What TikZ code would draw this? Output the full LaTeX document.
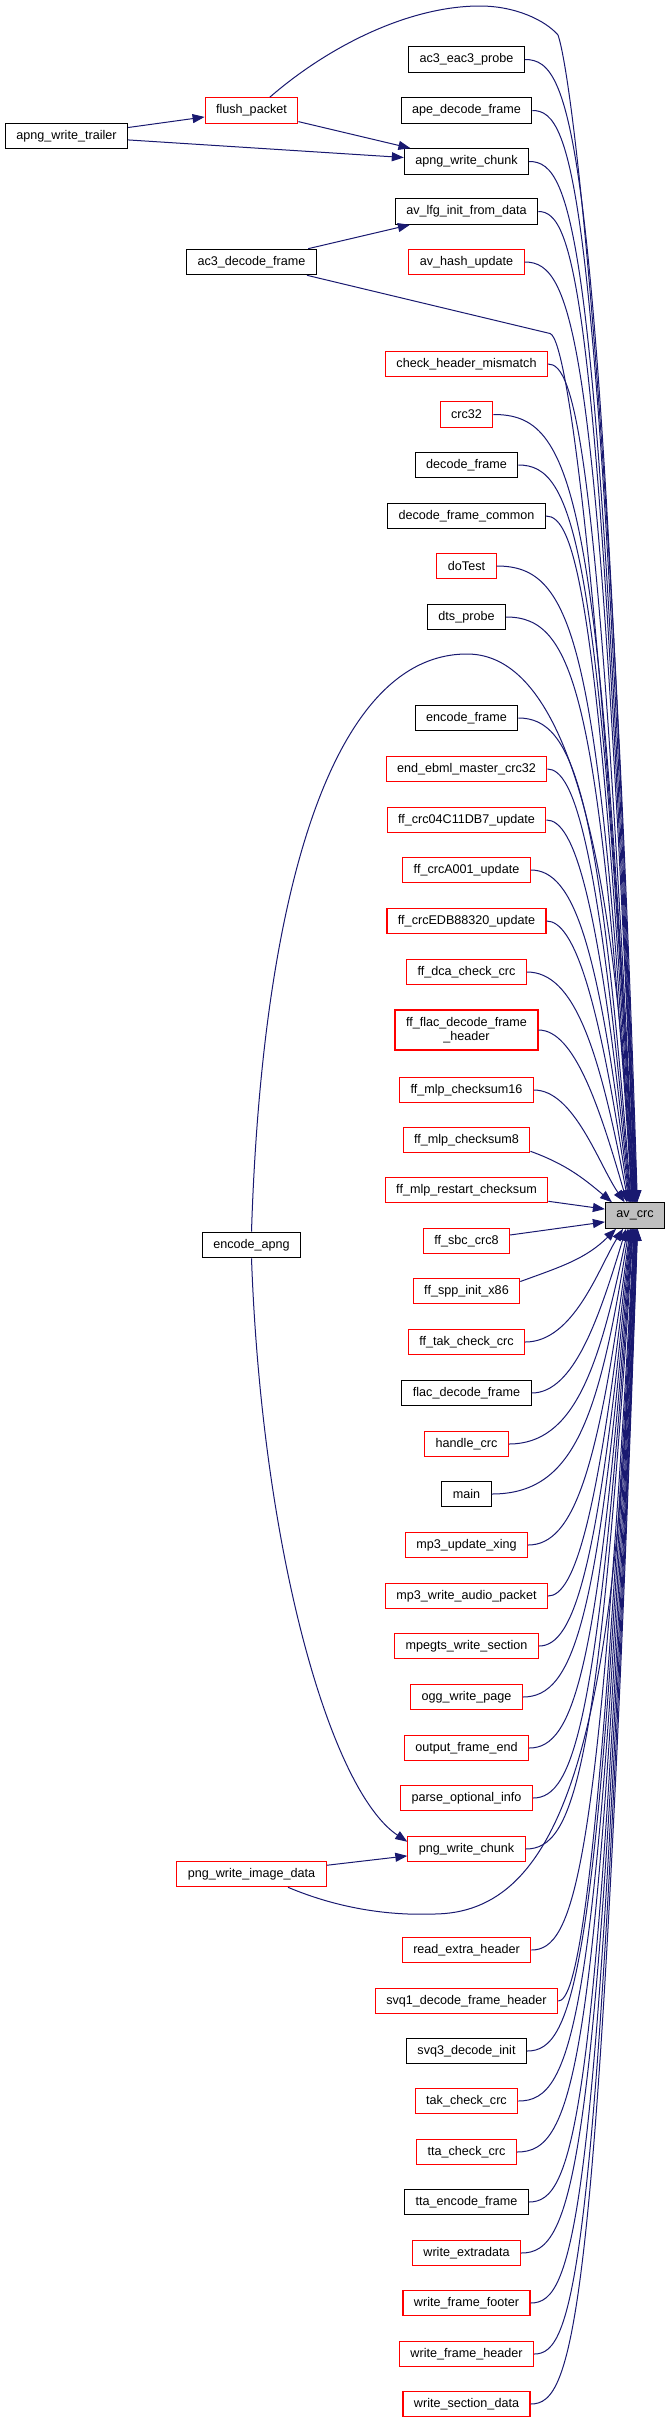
\documentclass[tikz,border=0pt]{standalone}
\usepackage{fontspec}
\setmainfont{Liberation Sans}
\usetikzlibrary{arrows.meta,calc}

\definecolor{edgeblue}{HTML}{191970}
\definecolor{boxred}{HTML}{FF0000}
\definecolor{selgray}{HTML}{BFBFBF}

\begin{document}
\begin{tikzpicture}[
      x=1pt, y=1pt,
      font=\fontsize{12.6}{14}\selectfont,
      fnbox/.style={draw=black, line width=1.1pt, fill=white, inner xsep=11pt, inner ysep=0pt, minimum height=25.5pt},
      redbox/.style={fnbox, draw=boxred},
      selbox/.style={fnbox, fill=selgray},
      callarr/.style={-{Triangle[length=12pt, width=9pt]}, draw=edgeblue, line width=1pt},
      fromabove/.style={to path={.. controls (\tikztostart -| bendx) and ($(\tikztostart -| bendx)+(25,-75)$) .. (\tikztotarget)}},
      frombelow/.style={to path={.. controls (\tikztostart -| bendx) and ($(\tikztostart -| bendx)+(25,75)$) .. (\tikztotarget)}},
    ]
    \useasboundingbox[fill=white] (0,0) rectangle (669,-2425);
    \coordinate (bendx) at (574,0);

    % callers further out
    \node[fnbox] (trailer) at (66.5,-136) {apng\_write\_trailer};
    \node[redbox] (flush) at (251.5,-110.5) {flush\_packet};
    \node[fnbox] (ac3dec) at (251.5,-262) {ac3\_decode\_frame};
    \node[fnbox] (encapng) at (251.5,-1245) {encode\_apng};
    \node[redbox] (pngimg) at (251.5,-1874) {png\_write\_image\_data};

    % direct callers
    \node[fnbox] (probe) at (466.5,-59.5) {ac3\_eac3\_probe};
    \node[fnbox] (apedec) at (466.5,-110.5) {ape\_decode\_frame};
    \node[fnbox] (apngchunk) at (466.5,-161.5) {apng\_write\_chunk};
    \node[fnbox] (lfginit) at (466.5,-211.5) {av\_lfg\_init\_from\_data};
    \node[redbox] (hashupd) at (466.5,-262) {av\_hash\_update};
    \node[redbox] (chkhdr) at (466.5,-364) {check\_header\_mismatch};
    \node[redbox] (crc) at (466.5,-414.5) {crc32};
    \node[fnbox] (decframe) at (466.5,-465) {decode\_frame};
    \node[fnbox] (decframecom) at (466.5,-516) {decode\_frame\_common};
    \node[redbox] (dotest) at (466.5,-566) {doTest};
    \node[fnbox] (dtsprobe) at (466.5,-617) {dts\_probe};
    \node[fnbox] (encframe) at (466.5,-718) {encode\_frame};
    \node[redbox] (ebmlcrc) at (466.5,-769) {end\_ebml\_master\_crc32};
    \node[redbox] (crc04) at (466.5,-820) {ff\_crc04C11DB7\_update};
    \node[redbox] (crca001) at (466.5,-870) {ff\_crcA001\_update};
    \node[redbox] (crcedb) at (466.5,-921) {ff\_crcEDB88320\_update};
    \node[redbox] (dcacrc) at (466.5,-972) {ff\_dca\_check\_crc};
    \node[redbox, align=center, minimum height=40pt] (flachdr) at (466.5,-1030) {ff\_flac\_decode\_frame\\\_header};
    \node[redbox] (mlp16) at (466.5,-1090) {ff\_mlp\_checksum16};
    \node[redbox] (mlp8) at (466.5,-1140) {ff\_mlp\_checksum8};
    \node[redbox] (mlprestart) at (466.5,-1190) {ff\_mlp\_restart\_checksum};
    \node[redbox] (sbccrc) at (466.5,-1241) {ff\_sbc\_crc8};
    \node[redbox] (sppinit) at (466.5,-1291) {ff\_spp\_init\_x86};
    \node[redbox] (ftakcrc) at (466.5,-1342) {ff\_tak\_check\_crc};
    \node[fnbox] (flacdec) at (466.5,-1393) {flac\_decode\_frame};
    \node[redbox] (handlecrc) at (466.5,-1444) {handle\_crc};
    \node[fnbox] (mainfn) at (466.5,-1494) {main};
    \node[redbox] (mp3xing) at (466.5,-1545) {mp3\_update\_xing};
    \node[redbox] (mp3audio) at (466.5,-1596) {mp3\_write\_audio\_packet};
    \node[redbox] (mpegtssec) at (466.5,-1646) {mpegts\_write\_section};
    \node[redbox] (oggpage) at (466.5,-1697) {ogg\_write\_page};
    \node[redbox] (outframe) at (466.5,-1748) {output\_frame\_end};
    \node[redbox] (parseopt) at (466.5,-1798) {parse\_optional\_info};
    \node[redbox] (pngchunk) at (466.5,-1849) {png\_write\_chunk};
    \node[redbox] (readextra) at (466.5,-1950) {read\_extra\_header};
    \node[redbox] (svq1hdr) at (466.5,-2001) {svq1\_decode\_frame\_header};
    \node[fnbox] (svq3init) at (466.5,-2051) {svq3\_decode\_init};
    \node[redbox] (takcrc) at (466.5,-2101) {tak\_check\_crc};
    \node[redbox] (ttacrc) at (466.5,-2152) {tta\_check\_crc};
    \node[fnbox] (ttaenc) at (466.5,-2202) {tta\_encode\_frame};
    \node[redbox] (extradata) at (466.5,-2253) {write\_extradata};
    \node[redbox] (footer) at (466.5,-2303) {write\_frame\_footer};
    \node[redbox] (header) at (466.5,-2354) {write\_frame\_header};
    \node[redbox] (section) at (466.5,-2404) {write\_section\_data};

    \node[selbox] (avcrc) at (635,-1215.5) {av\_crc};

    % calls between callers
    \draw[callarr] (trailer) -- (flush);
    \draw[callarr] (trailer) -- (apngchunk);
    \draw[callarr] (flush) -- (apngchunk);
    \draw[callarr] (ac3dec) -- (lfginit);
    \draw[callarr] (pngimg) -- (pngchunk);
    \draw[callarr] (encapng.south) .. controls (262,-1550) and (330,-1790) .. (pngchunk.173);

    % long ones round the column
    \draw[callarr] (flush.36) .. controls (330,-45) and (410,-6) .. (480,-6)
        .. controls (515,-6) and (545,-20) .. (558,-35)
        .. controls (572,-75) and (612,-400) .. (avcrc.80);
    \draw[callarr] (ac3dec) -- (550,-333.5) .. controls (570,-338.5) and (605,-650) .. (avcrc.90);
    \draw[callarr] (encapng.north) .. controls (262,-900) and (330,-654) .. (467,-654)
        .. controls (540,-654) and (612,-760) .. (avcrc.104);
    \draw[callarr] (pngimg.-20) .. controls (330,-1905) and (380,-1916) .. (433,-1914)
        .. controls (560,-1914) and (620,-1750) .. (avcrc.264);

    % into av_crc from above
    \draw[callarr] (probe.east) to[fromabove] (avcrc.82);
    \draw[callarr] (apedec.east) to[fromabove] (avcrc.84);
    \draw[callarr] (apngchunk.east) to[fromabove] (avcrc.86);
    \draw[callarr] (lfginit.east) to[fromabove] (avcrc.88);
    \draw[callarr] (hashupd.east) to[fromabove] (avcrc.89);
    \draw[callarr] (chkhdr.east) to[fromabove] (avcrc.92);
    \draw[callarr] (crc.east) to[fromabove] (avcrc.94);
    \draw[callarr] (decframe.east) to[fromabove] (avcrc.96);
    \draw[callarr] (decframecom.east) to[fromabove] (avcrc.98);
    \draw[callarr] (dotest.east) to[fromabove] (avcrc.100);
    \draw[callarr] (dtsprobe.east) to[fromabove] (avcrc.102);
    \draw[callarr] (encframe.east) to[fromabove] (avcrc.106);
    \draw[callarr] (ebmlcrc.east) to[fromabove] (avcrc.108);
    \draw[callarr] (crc04.east) to[fromabove] (avcrc.110);
    \draw[callarr] (crca001.east) to[fromabove] (avcrc.112);
    \draw[callarr] (crcedb.east) to[fromabove] (avcrc.114);
    \draw[callarr] (dcacrc.east) to[fromabove] (avcrc.117);
    \draw[callarr] (flachdr.east) to[fromabove] (avcrc.121);
    \draw[callarr] (mlp16.east) to[fromabove] (avcrc.128);
    \draw[callarr] (mlp8.-10) to[out=-20, in=140] (avcrc.150);
    \draw[callarr] (mlprestart) -- (avcrc.168);

    % into av_crc from below
    \draw[callarr] (sbccrc) -- (avcrc.192);
    \draw[callarr] (sppinit.10) to[out=20, in=-135] (avcrc.215);
    \draw[callarr] (ftakcrc.east) to[frombelow] (avcrc.228);
    \draw[callarr] (flacdec.east) to[frombelow] (avcrc.236);
    \draw[callarr] (handlecrc.east) to[frombelow] (avcrc.242);
    \draw[callarr] (mainfn.east) to[frombelow] (avcrc.246);
    \draw[callarr] (mp3xing.east) to[frombelow] (avcrc.250);
    \draw[callarr] (mp3audio.east) to[frombelow] (avcrc.252);
    \draw[callarr] (mpegtssec.east) to[frombelow] (avcrc.254);
    \draw[callarr] (oggpage.east) to[frombelow] (avcrc.256);
    \draw[callarr] (outframe.east) to[frombelow] (avcrc.258);
    \draw[callarr] (parseopt.east) to[frombelow] (avcrc.260);
    \draw[callarr] (pngchunk.east) to[frombelow] (avcrc.262);
    \draw[callarr] (readextra.east) to[frombelow] (avcrc.266);
    \draw[callarr] (svq1hdr.east) to[frombelow] (avcrc.268);
    \draw[callarr] (svq3init.east) to[frombelow] (avcrc.270);
    \draw[callarr] (takcrc.east) to[frombelow] (avcrc.272);
    \draw[callarr] (ttacrc.east) to[frombelow] (avcrc.274);
    \draw[callarr] (ttaenc.east) to[frombelow] (avcrc.276);
    \draw[callarr] (extradata.east) to[frombelow] (avcrc.278);
    \draw[callarr] (footer.east) to[frombelow] (avcrc.279);
    \draw[callarr] (header.east) to[frombelow] (avcrc.280);
    \draw[callarr] (section.east) to[frombelow] (avcrc.281);
  \end{tikzpicture}
\end{document}
